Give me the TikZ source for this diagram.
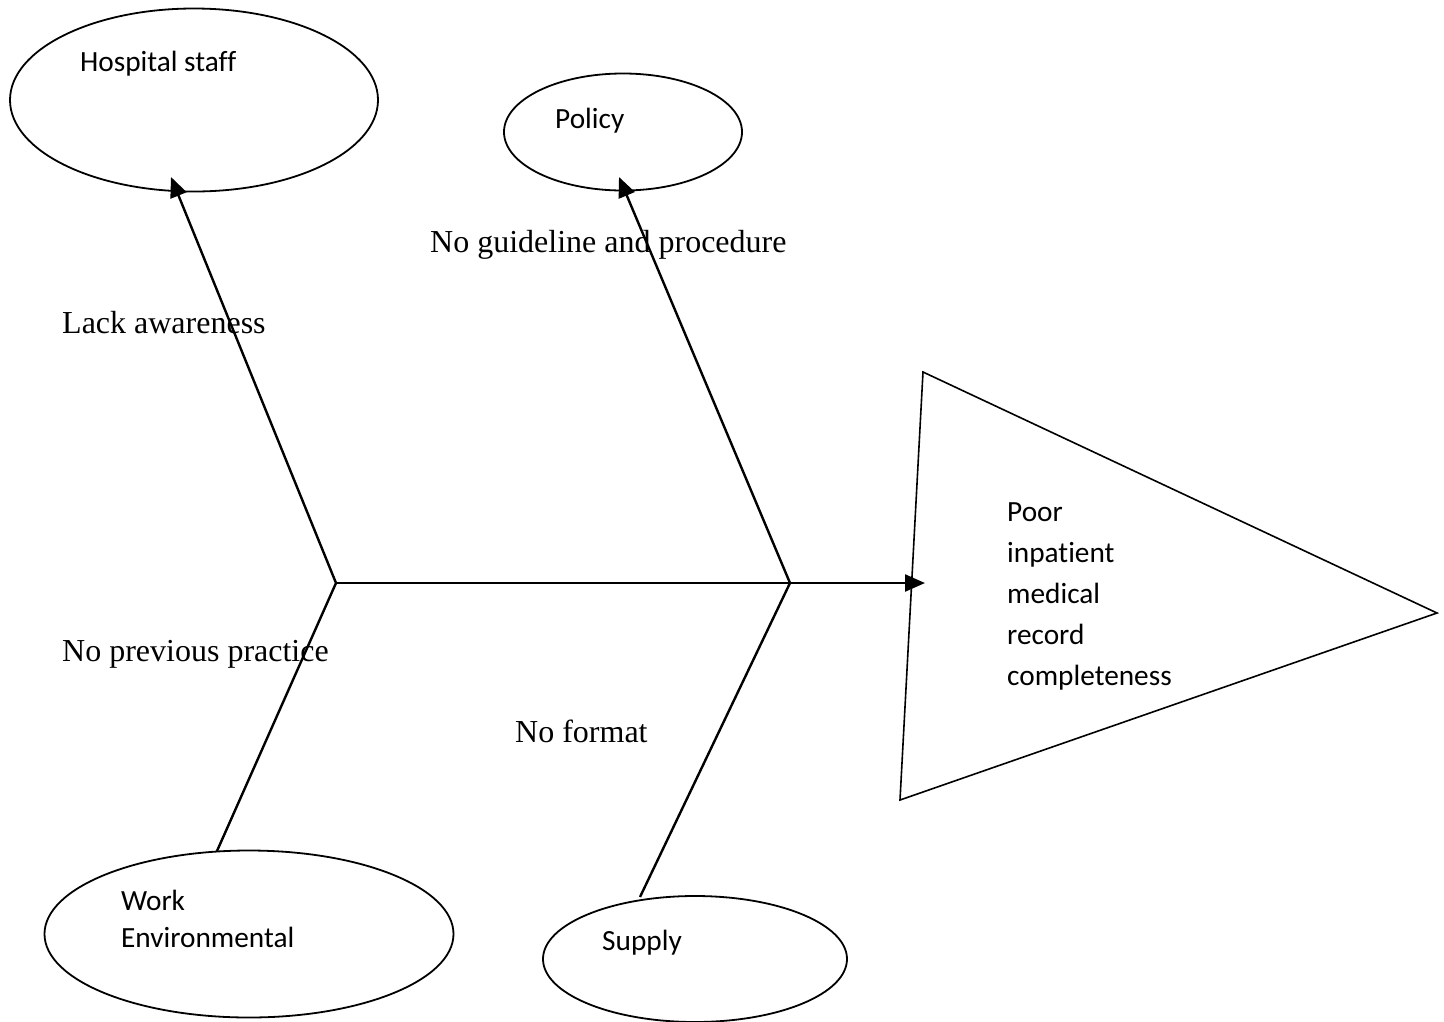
\documentclass[tikz,border=0pt]{standalone}
\usepackage{fontspec}
\setmainfont{Liberation Serif}
\newfontfamily\calib[Ligatures=NoCommon]{Carlito}
\usetikzlibrary{shapes.geometric,arrows.meta}
\begin{document}
\begin{tikzpicture}[x=1pt,y=-1pt,
  oval/.style={draw,ellipse,line width=1.8pt,inner sep=0pt},
  clab/.style={anchor=base west,inner sep=0pt,font=\calib\fontsize{29.3}{41}\selectfont},
  tlab/.style={anchor=base west,inner sep=0pt,font=\fontsize{32}{38}\selectfont},
  bone/.style={line width=2.4pt},
  tip/.style={-{Triangle[length=20pt,width=17pt]}}]
\useasboundingbox (0,0) rectangle (1444,1021);
% ellipses
\node[oval,minimum width=368pt,minimum height=183pt] (hs) at (194,100) {};
\node[oval,minimum width=238pt,minimum height=117pt] (pol) at (623,132) {};
\node[oval,minimum width=409pt,minimum height=167pt] (we) at (249,934) {};
\node[oval,minimum width=304pt,minimum height=126pt] (sup) at (695,959) {};
% ellipse labels
\node[clab] (hsl) at (80,71) {Hospital staff};
\node[clab] (poll) at (555,128) {Policy};
\node[clab] (wel1) at (121,910) {Work};
\node[clab] (wel2) at (121,947) {Environmental};
\node[clab] (supl) at (602,950) {Supply};
% head (triangle)
\coordinate (t1) at (923,372);
\coordinate (t2) at (1437,613);
\coordinate (t3) at (900,800);
\draw[line width=1.6pt,line join=miter] (t1) -- (t2) -- (t3) -- cycle;
\node[clab,align=left,anchor=north west] (eff) at (1007,502)
  {Poor\\inpatient\\medical\\record\\completeness};
% bones
\coordinate (j1) at (336,583);
\coordinate (j2) at (790,583);
\coordinate (headtip) at (925,583);
\coordinate (hstip) at (171,177);
\coordinate (poltip) at (619,177);
\coordinate (weend) at (217,851);
\coordinate (supend) at (640,897);
\draw[bone] (j1) -- (j2);
\draw[bone,tip] (j2) -- (headtip);
\draw[bone,tip] (j1) -- (hstip);
\draw[bone,tip] (j2) -- (poltip);
\draw[bone] (j1) -- (weend);
\draw[bone] (j2) -- (supend);
% cause labels
\node[tlab] (c1) at (430,252) {No guideline and procedure};
\node[tlab] (c2) at (62,333) {Lack awareness};
\node[tlab] (c3) at (62,661) {No previous practice};
\node[tlab] (c4) at (515,742) {No format};
\end{tikzpicture}
\end{document}
